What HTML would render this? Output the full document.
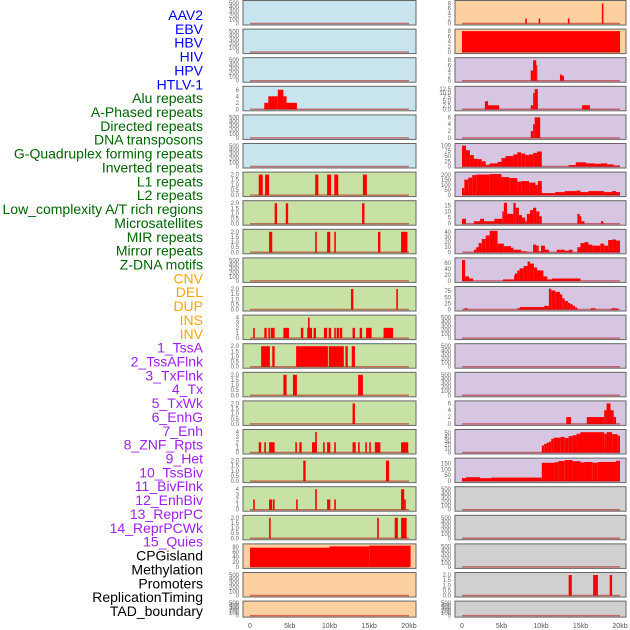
<!DOCTYPE html>
<html><head><meta charset="utf-8"><style>
body{margin:0;background:#fff;width:630px;height:630px;overflow:hidden}
svg{display:block;font-family:"Liberation Sans",sans-serif}
</style></head><body>
<svg id="chart" width="630" height="630" viewBox="0 0 630 630"></svg>
<script>
const trackLabels = ["AAV2","EBV","HBV","HIV","HPV","HTLV-1","Alu repeats","A-Phased repeats","Directed repeats","DNA transposons","G-Quadruplex forming repeats","Inverted repeats","L1 repeats","L2 repeats","Low_complexity A/T rich regions","Microsatellites","MIR repeats","Mirror repeats","Z-DNA motifs","CNV","DEL","DUP","INS","INV","1_TssA","2_TssAFlnk","3_TxFlnk","4_Tx","5_TxWk","6_EnhG","7_Enh","8_ZNF_Rpts","9_Het","10_TssBiv","11_BivFlnk","12_EnhBiv","13_ReprPC","14_ReprPCWk","15_Quies","CPGisland","Methylation","Promoters","ReplicationTiming","TAD_boundary"];
const labelGroups = [6,13,5,15,5];
const groupColors = ["#0000ff","#006400","#ffa500","#a020f0","#000000"];
const xTickLabels = ["0","5kb","10kb","15kb","20kb"];
const xTickValues = [0,5,10,15,20];

const T500=["0","100","200","300","400","500"], T2=["0.0","0.5","1.0","1.5","2.0"], T4=["0","1","2","3","4"];
const leftBg = ["#c8e4ec","#c8e4ec","#c8e4ec","#c8e4ec","#c8e4ec","#c8e4ec","#c8e1a4","#c8e1a4","#c8e1a4","#c8e1a4","#c8e1a4","#c8e1a4","#c8e1a4","#c8e1a4","#c8e1a4","#c8e1a4","#c8e1a4","#c8e1a4","#c8e1a4","#fdd09f","#fdd09f","#fdd09f"];
const rightBg = ["#fdd09f","#fdd09f","#d6c6e2","#d6c6e2","#d6c6e2","#d6c6e2","#d6c6e2","#d6c6e2","#d6c6e2","#d6c6e2","#d6c6e2","#d6c6e2","#d6c6e2","#d6c6e2","#d6c6e2","#d6c6e2","#d6c6e2","#d0d0d0","#d0d0d0","#d0d0d0","#d0d0d0","#d0d0d0"];
const leftTicks = [T500,T500,T500,["0","2","4","6"],T500,T500,T2,T2,T2,T500,T2,T4,T2,T2,T2,T4,T2,T4,T2,["0","20","40","60","80"],T500,T500];
const rightTicks = [["0","2","4","6","8"],["0","2","4","6","8"],["0","2","4","6","8"],["0.0","2.5","5.0","7.5","10.0","12.5"],["0","2","4","6"],["0","25","50","75","100"],["0","50","100","150","200"],["0","5","10","15"],["0","10","20","30","40"],["0","20","40","60"],["0","25","50","75"],T500,T500,T500,["0","2","4","6"],["0","10","20","30","40","50"],["0","50","100","150"],T500,T500,T500,T2,T500];
const leftYMax = [525,525,525,6.6,525,525,2.1,2.1,2.1,525,2.1,4.2,2.1,2.1,2.1,4.2,2.1,4.2,2.1,86,525,525];
const rightYMax = [8.6,8.2,8.4,13.3,6.3,103,215,17.5,42,72,88,525,525,525,6.3,55,182,525,525,525,2.1,525];

const leftSegs = [
 [],[],[],
 [[1.8,2.3,2],[2.3,3.5,4],[3.5,4.2,6],[4.2,4.6,4],[4.6,5.9,2]],
 [],[],
 [[1.1,1.6,2],[1.9,2.4,2],[8.2,8.6,2],[9.7,10.2,2],[10.6,11.1,2],[14.2,14.7,2]],
 [[3.1,3.4,2],[4.5,4.8,2],[14.1,14.4,2]],
 [[2.4,2.8,2],[8.2,8.4,2],[9.7,10.1,2],[10.6,10.8,2],[16.1,16.4,2],[19.0,19.8,2]],
 [],
 [[12.7,13.0,2],[18.4,18.6,2]],
 [[0.4,0.6,2],[1.8,2.1,2],[2.3,2.5,2],[2.6,3.1,2],[4.2,4.9,2],[6.4,6.7,2],[7.2,7.8,2],[7.3,7.5,4],[8.0,8.3,2],[9.3,9.7,2],[9.9,10.2,2],[10.6,10.8,2],[10.9,11.2,2],[11.3,11.6,2],[12.9,13.2,2],[13.8,14.1,2],[14.6,15.3,2],[16.8,18.0,2]],
 [[1.4,2.5,2],[2.8,3.1,2],[5.8,9.8,2],[9.9,11.8,2],[12.0,12.3,2],[12.8,13.2,2]],
 [[4.2,4.6,2],[5.4,5.9,2],[13.6,14.2,2]],
 [[12.9,13.2,2]],
 [[1.1,1.4,2],[1.8,2.0,2],[2.4,3.1,2],[5.7,5.9,2],[6.2,6.5,2],[7.8,8.4,2],[8.2,8.4,4],[9.2,9.4,2],[9.7,10.1,2],[10.6,10.8,2],[12.9,13.3,2],[13.6,13.8,2],[14.5,14.7,2],[15.0,15.2,2],[15.7,16.4,2],[19.0,19.9,2]],
 [[6.7,7.0,2],[17.1,17.5,2]],
 [[0.4,0.6,2],[2.4,2.8,2],[2.9,3.1,2],[5.8,6.0,2],[8.2,8.4,4],[9.7,10.1,2],[10.6,10.8,2],[19.0,19.4,4],[19.4,19.6,2]],
 [[2.4,2.6,2],[16.0,16.2,2],[18.2,18.6,2],[19.0,19.7,2]],
 [[0,10,77],[10,15,82],[15,20.2,85]],
 [],[]
];
const rightSegs = [
 [[8.0,8.2,2],[9.7,9.9,2],[13.4,13.6,2],[17.7,17.9,8]],
 [[0,20,8]],
 [[8.7,9.0,4],[9.0,9.4,8],[9.4,9.5,6],[12.4,12.6,2.5],[12.6,12.9,2]],
 [[2.9,3.3,5],[3.3,4.7,2.5],[8.7,9.0,2.5],[9.0,9.2,10],[9.2,9.6,12.5],[15.2,16.2,2.5]],
 [[8.7,9.0,2],[9.0,9.2,4],[9.2,9.9,6]],
 [[0,0.5,100],[0.5,1.0,78],[1.0,1.5,55],[1.5,2.0,37],[2.0,2.5,35],[2.5,3.0,25],[3.0,3.5,8],[3.5,4.0,15],[4.0,4.5,15],[4.5,5.0,22],[5.0,5.5,40],[5.5,6.5,50],[6.5,7.0,58],[7.0,7.5,68],[7.5,8.0,62],[8.0,8.5,55],[8.5,9.0,58],[9.0,9.5,65],[9.5,10.1,72],[13.5,14.4,7],[14.4,15.7,20],[15.7,16.8,15],[16.8,17.6,13],[17.6,18.4,15],[18.4,19.2,10],[19.2,20.0,5]],
 [[0,0.3,70],[0.3,0.8,155],[0.8,1.3,175],[1.3,1.8,200],[1.8,3.5,205],[3.5,5.0,210],[5.0,6.0,180],[6.0,7.0,170],[7.0,7.5,135],[7.5,8.5,140],[8.5,9.3,125],[9.3,9.6,100],[9.6,10.1,140],[10.1,11.8,20],[11.8,13.0,30],[13.0,14.5,40],[14.5,15.0,45],[15.0,16.0,30],[16.0,18.0,40],[18.0,19.0,30],[19.0,19.5,40],[19.5,20.0,30]],
 [[0,0.5,4],[1.5,2.3,2],[2.3,2.8,4],[2.8,4.1,2],[4.1,5.1,4],[5.1,5.3,10],[5.3,5.7,17],[5.7,6.5,8],[6.5,6.8,17],[6.8,7.2,13],[7.2,7.6,7],[7.6,8.0,5],[8.0,8.2,2],[8.2,8.6,8],[8.6,9.0,11],[9.0,9.4,13],[9.4,9.8,10],[9.8,10.1,6],[14.6,14.9,8],[14.9,15.1,6],[15.1,15.5,2],[17.6,17.9,2]],
 [[1.5,1.8,5],[1.8,2.1,10],[2.1,2.5,18],[2.5,3.0,26],[3.0,3.5,33],[3.5,4.5,42],[4.5,5.3,17],[5.3,6.2,12],[6.2,6.5,9],[6.5,7.5,5],[7.5,8.2,2],[9.0,9.4,15],[9.4,9.7,13],[9.7,10.0,2],[10.0,10.5,13],[10.5,11.0,5],[12.0,13.0,5],[13.0,13.5,3],[13.5,14.0,5],[14.6,15.0,10],[15.0,15.5,18],[15.5,16.0,20],[16.0,16.5,15],[16.5,17.5,13],[17.5,18.0,17],[18.0,18.5,13],[18.5,19.0,24],[19.0,19.5,25],[19.5,20.0,23]],
 [[0,0.4,70],[0.4,0.9,15],[0.9,1.4,8],[5.2,6.6,5],[6.6,6.7,20],[6.7,7.0,25],[7.0,7.3,35],[7.3,7.8,42],[7.8,8.3,50],[8.3,8.6,65],[8.6,9.1,58],[9.1,9.5,45],[9.5,10.3,35],[10.3,10.8,15],[10.8,11.4,5],[11.4,15.0,8]],
 [[0.3,0.7,5],[7.0,7.3,5],[7.3,10.4,10],[10.4,11.0,15],[11.0,11.3,85],[11.3,11.8,78],[11.8,12.4,72],[12.4,12.7,62],[12.7,13.0,45],[13.0,13.4,35],[13.4,13.7,27],[13.7,14.0,22],[14.0,14.3,15],[14.3,14.6,8],[16.3,16.9,5],[18.9,19.7,5]],
 [],[],[],
 [[13.2,13.8,2],[15.8,18.0,2],[18.0,18.3,4],[18.3,18.8,6],[18.8,19.2,4],[19.2,19.5,2]],
 [[10.1,10.4,18],[10.4,10.7,22],[10.7,11.0,25],[11.0,11.3,28],[11.3,11.6,35],[11.6,12.5,38],[12.5,13.0,40],[13.0,13.5,37],[13.5,14.0,42],[14.0,14.5,44],[14.5,15.0,48],[15.0,18.0,52],[18.0,18.3,48],[18.3,19.0,52],[19.0,19.7,47],[19.7,20.0,43]],
 [[0,0.5,25],[0.5,2.3,33],[2.3,3.7,25],[3.7,10.1,30],[10.1,11.7,155],[11.7,12.2,160],[12.2,13.0,170],[13.0,14.0,178],[14.0,15.0,168],[15.0,15.5,158],[15.5,16.5,162],[16.5,17.2,156],[17.2,19.5,162],[19.5,20.0,172]],
 [],[],[],
 [[13.5,13.9,2],[16.6,17.2,2],[18.7,19.0,2]],
 []
];

const NS="http://www.w3.org/2000/svg";
const svg=document.getElementById('chart');
function mk(tag,attrs,parent){const e=document.createElementNS(NS,tag);for(const k in attrs)e.setAttribute(k,attrs[k]);(parent||svg).appendChild(e);return e;}

// labels
let idx=0;
labelGroups.forEach((n,g)=>{for(let j=0;j<n;j++){const i=idx++;
 const t=mk('text',{x:203,y:15+i*13.86+5,'text-anchor':'end','font-size':14,fill:groupColors[g]});
 t.textContent=trackLabels[i];
 
 
}});

const cols=[{x0:243,x1:416,d0:250,d1:409,bg:leftBg,ticks:leftTicks,ymax:leftYMax,segs:leftSegs,name:'left'},
            {x0:455,x1:626,d0:462,d1:620,bg:rightBg,ticks:rightTicks,ymax:rightYMax,segs:rightSegs,name:'right'}];
cols.forEach(c=>{
 const xs=v=>c.d0+(c.d1-c.d0)*v/20;
 for(let r=0;r<22;r++){
  const top=r*28.6+0.5, h=(r===21?16:24.5), bot=top+h;
  const g=mk('g',{});
  
  
  mk('rect',{x:c.x0,y:top,width:c.x1-c.x0,height:h,fill:c.bg[r],stroke:'#666','stroke-width':1},g);
  const ymax=c.ymax[r];
  const y0=bot-1.5, ys=v=>y0-(h-3)*v/ymax;
  c.segs[r].forEach(s=>{
   const b=mk('rect',{x:xs(s[0]),y:ys(s[2]),width:Math.max(1,xs(s[1])-xs(s[0])),height:y0-ys(s[2]),fill:'#ff0000'},g);
   
   
  });
  mk('line',{x1:xs(0),x2:xs(20),y1:y0,y2:y0,stroke:'#b00000','stroke-opacity':0.5,'stroke-width':1.5},g);
  const tk=c.ticks[r];
  tk.forEach(l=>{const v=parseFloat(l);
   const t=mk('text',{x:c.x0-4,y:ys(v)+2,'text-anchor':'end','font-size':6,fill:'#666'},g);
   t.textContent=l;
   
   
  });
 }
 xTickValues.forEach((v,i)=>{
  const t=mk('text',{x:xs(v),y:628,'text-anchor':'middle','font-size':7,fill:'#555'});
  t.textContent=xTickLabels[i];
  
  
 });
});
</script>
</body></html>
